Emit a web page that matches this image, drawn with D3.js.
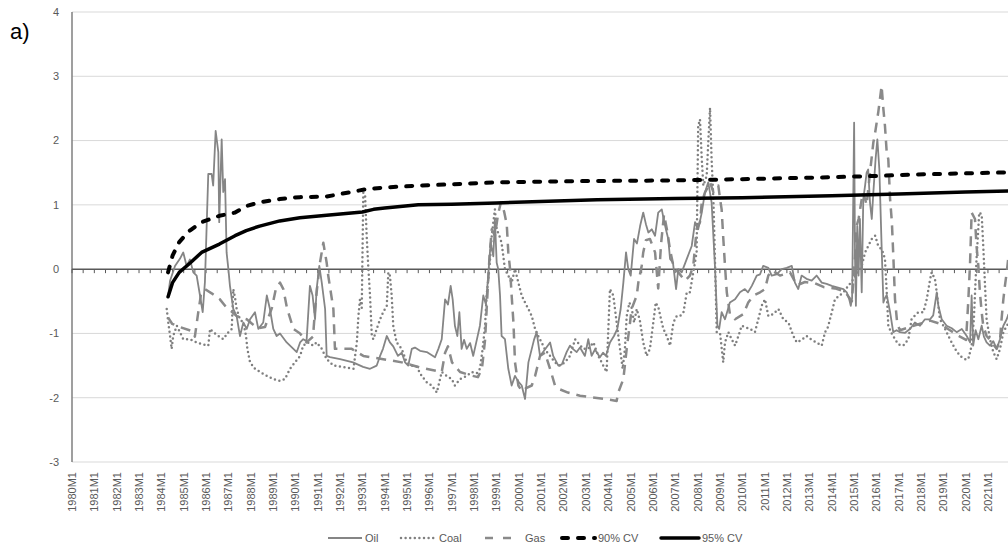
<!DOCTYPE html>
<html lang="en">
<head>
<meta charset="utf-8">
<title>Oil, coal, gas with critical values</title>
<script src="https://d3js.org/d3.v7.min.js"></script>
<style>
  body { margin: 0; background: #fff; font-family: "Liberation Sans", Arial, sans-serif; }
  svg { display: block; }
  .lbl { fill: #595959; font-size: 11px; }
</style>
</head>
<body>
<script>
// ---- data (decimal year, value) ----
var yearLabels = d3.range(1980, 2022).map(function (y) { return y + "M1"; });
var yTicks = [-3, -2, -1, 0, 1, 2, 3, 4];

var cv90 = [[1984.3,-0.05],[1984.5,0.21],[1984.8,0.42],[1985.2,0.58],[1985.8,0.73],[1986.6,0.83],[1987.3,0.88],[1987.8,0.98],[1988.4,1.04],[1989.3,1.09],[1990.2,1.12],[1991.4,1.13],[1992.5,1.2],[1993.1,1.24],[1994.0,1.27],[1995.5,1.3],[1997.0,1.32],[1999.0,1.35],[2003.0,1.37],[2007.0,1.38],[2008.5,1.39],[2010.0,1.4],[2014.0,1.43],[2016.0,1.45],[2017.5,1.47],[2020.0,1.49],[2022.5,1.51]];

var cv95 = [[1984.3,-0.43],[1984.5,-0.21],[1984.8,-0.05],[1985.3,0.1],[1985.8,0.26],[1986.6,0.39],[1987.3,0.52],[1987.8,0.6],[1988.4,0.67],[1989.3,0.75],[1990.2,0.8],[1991.4,0.84],[1993.0,0.89],[1993.5,0.93],[1994.0,0.95],[1995.5,1.0],[1997.0,1.01],[1999.0,1.03],[2003.5,1.08],[2007.0,1.1],[2010.0,1.11],[2014.0,1.14],[2017.0,1.17],[2020.0,1.2],[2022.5,1.22]];

var oil = [[1984.30,-0.42],[1984.39,-0.18],[1984.61,0.05],[1984.83,0.16],[1984.98,0.26],[1985.13,0.05],[1985.28,0.15],[1985.43,-0.05],[1985.58,-0.1],[1985.73,-0.41],[1985.85,-0.67],[1985.95,-0.2],[1986.10,1.48],[1986.25,1.48],[1986.32,1.3],[1986.43,2.15],[1986.55,1.82],[1986.59,0.73],[1986.70,2.02],[1986.77,1.2],[1986.85,1.4],[1986.92,0.26],[1987.00,0],[1987.07,-0.26],[1987.22,-0.62],[1987.37,-0.73],[1987.52,-1.04],[1987.67,-0.83],[1987.82,-0.93],[1987.97,-0.78],[1988.19,-0.67],[1988.34,-0.93],[1988.56,-0.83],[1988.72,-0.41],[1988.86,-0.62],[1989.01,-0.93],[1989.16,-1.04],[1989.31,-1.0],[1989.61,-1.14],[1989.91,-1.24],[1990.06,-1.29],[1990.21,-1.14],[1990.35,-1.09],[1990.50,-1.12],[1990.65,-0.26],[1990.77,-0.41],[1990.88,-0.78],[1990.95,-0.31],[1991.07,0.05],[1991.18,-0.21],[1991.33,-0.62],[1991.40,-1.35],[1991.55,-1.37],[1992.00,-1.4],[1992.58,-1.45],[1993.03,-1.52],[1993.34,-1.55],[1993.64,-1.5],[1993.79,-1.35],[1993.92,-1.24],[1994.09,-1.04],[1994.23,-1.14],[1994.38,-1.2],[1994.59,-1.35],[1994.76,-1.3],[1994.91,-1.45],[1995.05,-1.5],[1995.21,-1.24],[1995.35,-1.22],[1995.58,-1.27],[1995.88,-1.29],[1996.25,-1.37],[1996.40,-1.24],[1996.55,-1.09],[1996.70,-0.47],[1996.83,-0.55],[1996.95,-0.26],[1997.04,-0.47],[1997.14,-0.88],[1997.25,-1.04],[1997.34,-0.67],[1997.44,-1.24],[1997.55,-1.1],[1997.67,-1.24],[1997.82,-1.15],[1997.96,-1.35],[1998.12,-1.1],[1998.26,-0.88],[1998.41,-0.41],[1998.53,-0.55],[1998.63,-0.1],[1998.74,0.41],[1998.86,0.2],[1998.93,0.78],[1999.01,0.1],[1999.08,0.0],[1999.16,-0.41],[1999.23,-1.04],[1999.38,-1.09],[1999.53,-1.55],[1999.68,-1.81],[1999.83,-1.66],[1999.98,-1.75],[2000.13,-1.81],[2000.28,-2.02],[2000.43,-1.45],[2000.58,-1.24],[2000.68,-1.1],[2000.80,-0.98],[2000.95,-1.35],[2001.17,-1.25],[2001.40,-1.14],[2001.54,-1.35],[2001.77,-1.5],[2001.93,-1.48],[2002.14,-1.29],[2002.29,-1.19],[2002.42,-1.24],[2002.59,-1.29],[2002.74,-1.22],[2002.96,-1.35],[2003.11,-1.09],[2003.26,-1.35],[2003.41,-1.25],[2003.63,-1.37],[2003.77,-1.3],[2003.90,-1.35],[2004.08,-1.14],[2004.26,-1.04],[2004.41,-0.93],[2004.56,-0.62],[2004.68,-0.21],[2004.80,0.26],[2004.90,0.0],[2005.01,-0.1],[2005.16,0.47],[2005.29,0.4],[2005.43,0.67],[2005.57,0.88],[2005.69,0.7],[2005.80,0.57],[2005.95,0.62],[2006.10,0.52],[2006.24,0.88],[2006.40,0.93],[2006.50,0.75],[2006.62,0.57],[2006.69,0.47],[2006.77,0.16],[2006.90,0.1],[2007.04,-0.31],[2007.14,0.0],[2007.29,-0.05],[2007.52,0.16],[2007.74,0.36],[2007.89,0.73],[2008.03,0.62],[2008.19,0.88],[2008.33,1.19],[2008.48,1.35],[2008.63,1.04],[2008.78,0.05],[2008.89,-0.88],[2008.97,-0.93],[2009.08,-0.67],[2009.23,-0.78],[2009.45,-0.52],[2009.68,-0.47],[2009.90,-0.36],[2010.12,-0.31],[2010.26,-0.36],[2010.43,-0.26],[2010.65,-0.1],[2010.80,-0.08],[2010.94,0.05],[2011.17,0.02],[2011.32,-0.1],[2011.54,-0.08],[2011.77,0.0],[2011.99,0.02],[2012.22,0.05],[2012.36,-0.21],[2012.51,-0.31],[2012.66,-0.1],[2012.88,-0.15],[2013.11,-0.18],[2013.33,-0.1],[2013.56,-0.21],[2013.78,-0.23],[2014.01,-0.26],[2014.53,-0.31],[2014.68,-0.36],[2014.79,-0.47],[2014.86,-0.57],[2014.92,-0.45],[2015.01,2.28],[2015.05,0.16],[2015.09,-0.57],[2015.15,0.67],[2015.21,-0.1],[2015.27,0.78],[2015.35,-0.36],[2015.42,1.09],[2015.50,1.3],[2015.57,1.5],[2015.64,1.55],[2015.72,1.04],[2015.80,0.78],[2015.87,1.19],[2015.97,1.71],[2016.05,2.02],[2016.14,1.55],[2016.24,0.36],[2016.32,-0.52],[2016.39,-0.45],[2016.47,-0.4],[2016.62,-0.67],[2016.76,-0.98],[2016.91,-0.95],[2017.06,-0.98],[2017.29,-0.99],[2017.51,-0.93],[2017.73,-0.83],[2017.96,-0.88],[2018.18,-0.78],[2018.41,-0.78],[2018.55,-0.72],[2018.71,-0.36],[2018.78,-0.57],[2018.93,-0.78],[2019.15,-0.88],[2019.38,-0.92],[2019.60,-0.98],[2019.83,-0.93],[2020.05,-1.04],[2020.20,-1.14],[2020.27,-0.41],[2020.34,-1.19],[2020.45,-0.95],[2020.57,-1.09],[2020.72,-0.88],[2020.82,-1.05],[2020.94,-1.14],[2021.09,-1.19],[2021.24,-1.12],[2021.39,-1.24],[2021.54,-1.09],[2021.69,-0.88],[2021.84,-0.78],[2021.92,-0.7]];

var coal = [[1984.24,-0.62],[1984.31,-0.83],[1984.39,-1.04],[1984.46,-1.24],[1984.53,-1.04],[1984.69,-0.88],[1984.83,-0.98],[1984.98,-1.09],[1985.28,-1.09],[1985.58,-1.14],[1985.88,-1.17],[1986.10,-1.19],[1986.18,-0.93],[1986.32,-0.98],[1986.55,-1.04],[1986.77,-1.09],[1987.00,-0.98],[1987.15,-0.93],[1987.22,-0.31],[1987.30,-0.45],[1987.37,-0.62],[1987.52,-0.78],[1987.67,-0.83],[1987.79,-1.04],[1987.85,-1.24],[1987.97,-1.45],[1988.19,-1.55],[1988.42,-1.6],[1988.72,-1.66],[1989.01,-1.71],[1989.31,-1.74],[1989.53,-1.71],[1989.76,-1.55],[1989.98,-1.45],[1990.21,-1.35],[1990.35,-1.19],[1990.56,-1.14],[1990.80,-1.19],[1990.95,-1.14],[1991.18,-1.24],[1991.40,-1.4],[1991.70,-1.5],[1992.30,-1.53],[1992.60,-1.55],[1992.75,-1.14],[1992.82,-0.73],[1992.89,-0.47],[1992.97,-0.6],[1993.04,1.19],[1993.12,1.15],[1993.19,0.52],[1993.26,0.05],[1993.34,-0.41],[1993.42,-1.04],[1993.49,-1.09],[1993.64,-0.93],[1993.79,-0.78],[1993.93,-0.67],[1994.09,-0.57],[1994.16,-0.05],[1994.23,-0.1],[1994.31,-0.41],[1994.38,-0.88],[1994.53,-1.14],[1994.76,-1.24],[1994.98,-1.45],[1995.21,-1.5],[1995.43,-1.52],[1995.65,-1.66],[1995.88,-1.76],[1996.10,-1.81],[1996.33,-1.92],[1996.55,-1.6],[1996.77,-1.66],[1997.00,-1.71],[1997.14,-1.81],[1997.37,-1.71],[1997.67,-1.66],[1997.89,-1.6],[1998.12,-1.62],[1998.26,-1.55],[1998.38,-1.24],[1998.49,-0.88],[1998.56,-0.41],[1998.68,0.0],[1998.79,0.52],[1998.86,0.73],[1998.93,0.93],[1999.01,0.62],[1999.13,0.52],[1999.23,0.41],[1999.38,0.0],[1999.53,-0.1],[1999.68,-0.21],[1999.83,0.0],[1999.98,-0.21],[2000.13,-0.41],[2000.28,-0.52],[2000.43,-0.62],[2000.58,-0.73],[2000.73,-0.93],[2000.87,-1.04],[2001.02,-1.14],[2001.17,-1.25],[2001.40,-1.35],[2001.62,-1.45],[2001.84,-1.5],[2002.07,-1.45],[2002.29,-1.35],[2002.52,-1.09],[2002.66,-1.15],[2002.89,-1.24],[2003.11,-1.24],[2003.34,-1.14],[2003.56,-1.35],[2003.78,-1.5],[2003.93,-1.6],[2004.08,-0.31],[2004.23,-0.41],[2004.38,-0.83],[2004.53,-1.24],[2004.65,-1.55],[2004.75,-1.24],[2004.83,-0.73],[2004.95,-0.52],[2005.05,-0.6],[2005.16,-0.83],[2005.28,-0.62],[2005.42,-0.8],[2005.57,-1.14],[2005.72,-1.35],[2005.87,-1.24],[2006.02,-0.83],[2006.13,-0.52],[2006.25,-0.6],[2006.40,-0.83],[2006.47,-0.93],[2006.62,-1.04],[2006.77,-1.19],[2006.92,-0.83],[2007.07,-0.73],[2007.22,-0.73],[2007.37,-0.67],[2007.52,-0.36],[2007.66,-0.36],[2007.81,-0.05],[2007.96,0.26],[2008.03,2.23],[2008.11,2.33],[2008.19,1.71],[2008.26,1.3],[2008.41,1.45],[2008.48,1.97],[2008.56,2.51],[2008.63,1.71],[2008.71,1.09],[2008.78,0.16],[2008.86,-0.98],[2009.01,-1.0],[2009.15,-1.45],[2009.23,-1.14],[2009.38,-0.98],[2009.53,-1.09],[2009.68,-1.19],[2009.83,-1.04],[2009.98,-0.88],[2010.12,-0.9],[2010.35,-0.93],[2010.57,-0.98],[2010.72,-0.78],[2010.87,-0.57],[2011.02,-0.47],[2011.17,-0.73],[2011.38,-0.7],[2011.62,-0.62],[2011.84,-0.78],[2012.07,-0.83],[2012.29,-1.04],[2012.44,-1.14],[2012.66,-1.1],[2012.88,-1.04],[2013.11,-1.1],[2013.33,-1.14],[2013.56,-1.19],[2013.71,-0.98],[2013.84,-0.9],[2014.01,-0.67],[2014.15,-0.47],[2014.53,-0.36],[2014.97,-0.16],[2015.35,0.05],[2015.50,0.26],[2015.64,0.36],[2015.80,0.47],[2015.95,0.52],[2016.09,0.36],[2016.26,0.3],[2016.39,0.16],[2016.47,-0.36],[2016.54,-0.88],[2016.69,-1.0],[2016.84,-1.09],[2016.99,-1.17],[2017.21,-1.19],[2017.44,-1.09],[2017.58,-0.78],[2017.73,-0.72],[2017.88,-0.67],[2018.11,-0.67],[2018.26,-0.47],[2018.41,-0.16],[2018.48,-0.05],[2018.63,-0.16],[2018.71,-0.36],[2018.85,-0.78],[2019.08,-0.93],[2019.30,-1.09],[2019.53,-1.24],[2019.75,-1.35],[2019.97,-1.4],[2020.12,-1.4],[2020.27,-1.19],[2020.37,-0.78],[2020.49,0.16],[2020.61,0.88],[2020.72,0.85],[2020.79,0.36],[2020.87,-0.26],[2020.94,-0.78],[2021.09,-1.09],[2021.24,-1.29],[2021.39,-1.4],[2021.54,-1.24],[2021.69,-0.98],[2021.90,-0.85]];

var gas = [[1984.30,-0.75],[1984.48,-0.85],[1984.83,-0.9],[1985.42,-0.97],[1985.50,-1.05],[1985.64,-0.7],[1985.77,-0.4],[1985.95,-0.31],[1986.27,-0.38],[1986.62,-0.47],[1986.85,-0.57],[1987.37,-0.73],[1987.82,-0.78],[1988.06,-0.85],[1988.33,-0.92],[1988.64,-0.9],[1988.95,-0.6],[1989.13,-0.3],[1989.31,-0.21],[1989.46,-0.31],[1989.62,-0.6],[1989.91,-0.93],[1990.21,-1.0],[1990.50,-1.14],[1990.79,-1.05],[1990.88,-0.62],[1990.97,-0.3],[1991.10,0.1],[1991.25,0.41],[1991.40,0.1],[1991.47,-0.1],[1991.70,-0.62],[1991.77,-1.24],[1992.52,-1.24],[1993.04,-1.35],[1993.93,-1.4],[1994.76,-1.45],[1995.58,-1.53],[1996.55,-1.6],[1996.70,-1.3],[1996.83,-1.2],[1997.01,-1.45],[1997.37,-1.6],[1997.82,-1.65],[1998.17,-1.68],[1998.35,-1.55],[1998.49,-1.1],[1998.58,-0.5],[1998.69,0.2],[1998.79,0.62],[1998.93,0.52],[1999.07,0.85],[1999.20,1.04],[1999.34,0.9],[1999.46,0.7],[1999.53,0.26],[1999.61,0.0],[1999.68,-0.41],[1999.76,-0.83],[1999.83,-1.45],[1999.98,-1.81],[2000.14,-1.9],[2000.33,-1.85],[2000.58,-1.81],[2000.73,-1.66],[2000.95,-1.35],[2001.17,-1.3],[2001.40,-1.55],[2001.62,-1.81],[2001.84,-1.87],[2002.20,-1.92],[2002.74,-1.97],[2003.41,-2.0],[2003.86,-2.02],[2004.38,-2.05],[2004.45,-1.92],[2004.68,-1.71],[2004.83,-1.24],[2004.98,-0.83],[2005.05,-0.62],[2005.28,-0.41],[2005.35,-0.21],[2005.50,0.05],[2005.57,0.26],[2005.69,0.45],[2005.87,0.47],[2006.10,0.26],[2006.24,-0.3],[2006.37,0.4],[2006.50,0.85],[2006.64,0.6],[2006.77,0.3],[2006.95,0.0],[2007.14,-0.05],[2007.44,-0.18],[2007.66,-0.1],[2007.81,0.05],[2007.96,0.62],[2008.11,0.73],[2008.19,1.04],[2008.33,1.19],[2008.41,1.24],[2008.56,1.35],[2008.71,1.2],[2008.93,1.3],[2009.01,1.09],[2009.08,0.93],[2009.15,0.5],[2009.23,0.05],[2009.31,-0.36],[2009.45,-0.7],[2009.68,-0.78],[2010.05,-0.7],[2010.27,-0.52],[2010.50,-0.41],[2010.80,-0.36],[2011.02,-0.31],[2011.17,-0.1],[2011.33,-0.02],[2011.69,-0.1],[2012.14,-0.05],[2012.45,-0.25],[2012.81,-0.2],[2013.26,-0.22],[2013.66,-0.28],[2014.15,-0.3],[2014.60,-0.35],[2014.91,-0.5],[2015.05,0.2],[2015.12,0.67],[2015.21,0.78],[2015.35,1.09],[2015.42,1.19],[2015.57,1.0],[2015.72,1.5],[2015.87,1.97],[2015.95,2.12],[2016.09,2.44],[2016.24,2.85],[2016.32,2.49],[2016.39,2.23],[2016.47,1.81],[2016.54,1.71],[2016.62,1.09],[2016.70,0.73],[2016.77,0.16],[2016.84,-0.47],[2016.94,-0.85],[2017.06,-0.95],[2017.51,-0.9],[2017.96,-0.85],[2018.41,-0.8],[2018.85,-0.85],[2019.30,-0.95],[2019.75,-1.05],[2020.02,-1.1],[2020.12,-0.5],[2020.20,0.1],[2020.27,0.88],[2020.42,0.78],[2020.49,0.36],[2020.57,0.05],[2020.64,-0.36],[2020.72,-0.67],[2020.79,-0.88],[2020.94,-1.04],[2021.09,-1.1],[2021.39,-1.24],[2021.54,-1.1],[2021.61,-0.78],[2021.69,-0.47],[2021.76,-0.26],[2021.84,-0.05],[2021.92,0.2]];

// ---- canvas ----
var width = 1008, height = 549;
var svg = d3.select("body").append("svg")
  .attr("width", width).attr("height", height);

var x = d3.scaleLinear().domain([1980, 2023]).range([72, 72 + 43 * 22.34]);
var y = d3.scaleLinear().domain([-3, 4]).range([462, 12]);
var xEnd = x(2023);

// horizontal gridlines
svg.append("g").selectAll("line").data(yTicks.filter(function (d) { return d !== 0; }))
  .join("line")
  .attr("x1", 72).attr("x2", xEnd)
  .attr("y1", function (d) { return y(d); }).attr("y2", function (d) { return y(d); })
  .attr("stroke", "#d9d9d9").attr("stroke-width", 1);

// y axis line + labels
svg.append("line").attr("x1", 72).attr("x2", 72).attr("y1", y(4)).attr("y2", y(-3))
  .attr("stroke", "#7f7f7f").attr("stroke-width", 1.5);
svg.append("g").selectAll("text").data(yTicks).join("text")
  .attr("class", "lbl")
  .attr("x", 59).attr("y", function (d) { return y(d); })
  .attr("dy", "0.35em").attr("text-anchor", "end")
  .text(function (d) { return d; });

// x labels (rotated), placed below the plot
svg.append("g").selectAll("text").data(yearLabels).join("text")
  .attr("class", "lbl")
  .attr("transform", function (d, i) { return "translate(" + (x(1980 + i) + 4) + ",472) rotate(-90)"; })
  .attr("text-anchor", "end")
  .text(function (d) { return d; });

// series
var line = d3.line()
  .x(function (d) { return x(d[0]); })
  .y(function (d) { return y(d[1]); });

var series = [
  { data: coal, stroke: "#7f7f7f", width: 2.5, dash: "0 4.6", cap: "round" },
  { data: gas, stroke: "#8a8a8a", width: 2.5, dash: "10 7", cap: "butt" },
  { data: oil, stroke: "#858585", width: 1.8, dash: null, cap: "butt" },
  { data: cv90, stroke: "#000", width: 4, dash: "6 10", cap: "round" },
  { data: cv95, stroke: "#000", width: 3.5, dash: null, cap: "round" }
];

// zero axis line with half-year tick marks
var ticks = d3.range(1980, 2023.01, 0.5);
svg.append("g").selectAll("line").data(ticks).join("line")
  .attr("x1", function (d) { return x(d); }).attr("x2", function (d) { return x(d); })
  .attr("y1", y(0)).attr("y2", y(0) + 4)
  .attr("stroke", "#595959").attr("stroke-width", 1);
svg.append("line").attr("x1", 72).attr("x2", xEnd).attr("y1", y(0)).attr("y2", y(0))
  .attr("stroke", "#595959").attr("stroke-width", 1.5);

svg.append("g").selectAll("path").data(series).join("path")
  .attr("fill", "none")
  .attr("stroke", function (d) { return d.stroke; })
  .attr("stroke-width", function (d) { return d.width; })
  .attr("stroke-dasharray", function (d) { return d.dash; })
  .attr("stroke-linecap", function (d) { return d.cap; })
  .attr("stroke-linejoin", "round")
  .attr("d", function (d) { return line(d.data); });

// legend
var legend = [
  { name: "Oil", x0: 328, x1: 362, s: series[2] },
  { name: "Coal", x0: 401, x1: 436, s: series[0] },
  { name: "Gas", x0: 485, x1: 518, s: series[1] },
  { name: "90% CV", x0: 562, x1: 595, s: series[3] },
  { name: "95% CV", x0: 661, x1: 699, s: series[4] }
];
var lg = svg.append("g").selectAll("g").data(legend).join("g");
lg.append("line")
  .attr("x1", function (d) { return d.x0; }).attr("x2", function (d) { return d.x1; })
  .attr("y1", 538).attr("y2", 538)
  .attr("stroke", function (d) { return d.s.stroke; })
  .attr("stroke-width", function (d) { return d.s.width; })
  .attr("stroke-dasharray", function (d) { return d.name === "Gas" ? "8 10" : d.s.dash; })
  .attr("stroke-linecap", function (d) { return d.s.cap; });
lg.append("text").attr("class", "lbl")
  .attr("x", function (d) { return d.name === "Gas" ? d.x1 + 7 : d.x1 + 3; })
  .attr("y", 538).attr("dy", "0.35em")
  .text(function (d) { return d.name; });

// panel tag
svg.append("text").attr("x", 10).attr("y", 39)
  .attr("font-size", "22px").attr("fill", "#000").text("a)");
</script>
</body>
</html>
